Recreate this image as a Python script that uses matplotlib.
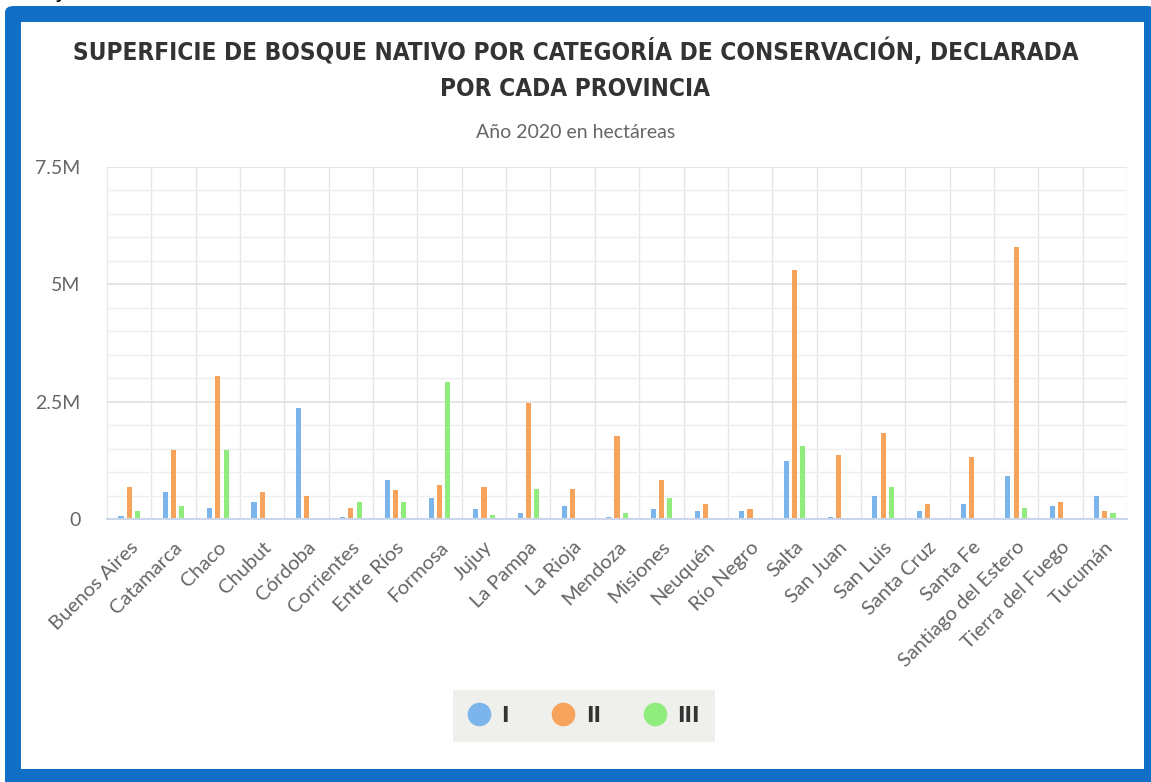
import matplotlib.pyplot as plt
import numpy as np
from matplotlib.patches import FancyBboxPatch, Rectangle
from matplotlib.lines import Line2D
from matplotlib.ticker import FuncFormatter, MultipleLocator

provincias = ['Buenos Aires', 'Catamarca', 'Chaco', 'Chubut', 'Córdoba', 'Corrientes',
              'Entre Ríos', 'Formosa', 'Jujuy', 'La Pampa', 'La Rioja', 'Mendoza',
              'Misiones', 'Neuquén', 'Río Negro', 'Salta', 'San Juan', 'San Luis',
              'Santa Cruz', 'Santa Fe', 'Santiago del Estero', 'Tierra del Fuego', 'Tucumán']

# millones de hectareas, categorias I / II / III
cat_I = [0.06, 0.57, 0.24, 0.37, 2.37, 0.04, 0.84, 0.44, 0.21, 0.13, 0.28, 0.04,
         0.21, 0.17, 0.17, 1.24, 0.04, 0.48, 0.17, 0.33, 0.92, 0.28, 0.48]
cat_II = [0.68, 1.48, 3.04, 0.57, 0.48, 0.24, 0.61, 0.72, 0.68, 2.47, 0.64, 1.76,
          0.84, 0.33, 0.21, 5.31, 1.36, 1.84, 0.33, 1.33, 5.80, 0.37, 0.17]
cat_III = [0.17, 0.28, 1.48, 0.0, 0.0, 0.37, 0.37, 2.92, 0.085, 0.64, 0.0, 0.13,
           0.44, 0.0, 0.0, 1.56, 0.0, 0.68, 0.0, 0.0, 0.24, 0.0, 0.13]
series = ['I', 'II', 'III']
colores = ['#7cb5ec', '#f7a35c', '#90ed7d']

W, H = 1151, 782
fig = plt.figure(figsize=(W / 100, H / 100), dpi=100)

# marco azul redondeado
fig.patches.append(FancyBboxPatch((5 / W, -0.05), 1.0, 1.05 - 6 / H,
                                  boxstyle='round,pad=0,rounding_size=0.008',
                                  transform=fig.transFigure, facecolor='#116fc6',
                                  edgecolor='none', zorder=-2))
fig.patches.append(Rectangle((21 / W, 1 - 769 / H), (1144 - 21) / W, (769 - 22) / H,
                             transform=fig.transFigure, facecolor='white',
                             edgecolor='none', zorder=-1))
fig.text(61 / W, 1 + 2 / H, 'y', fontsize=15, va='baseline', ha='center', color='black')

ax = fig.add_axes([107 / W, 1 - 519 / H, (1127 - 107) / W, (519 - 167) / H])
ax.set_facecolor('none')

x = np.arange(len(provincias))
n = len(x)
ancho = 0.115
paso = 0.185
for i, (vals, nombre, c) in enumerate(zip([cat_I, cat_II, cat_III], series, colores)):
    ax.bar(x + (i - 1) * paso, np.array(vals) * 1e6, width=ancho, color=c,
           label=nombre, zorder=3)

ax.set_xlim(-0.5, n - 0.5)
ax.set_ylim(0, 7.5e6)
ax.yaxis.set_major_locator(MultipleLocator(2.5e6))
ax.yaxis.set_minor_locator(MultipleLocator(0.5e6))
ax.yaxis.set_major_formatter(FuncFormatter(lambda v, p: '0' if v == 0 else f'{v / 1e6:g}M'))
ax.set_xticks(x)
ax.set_xticks(np.arange(-0.5, n, 1), minor=True)
ax.set_xticklabels(provincias, rotation=45, ha='right', rotation_mode='anchor',
                   fontsize=14.5, color='#666666', family=['Lato', 'DejaVu Sans'])
ax.tick_params(axis='x', which='both', length=0, pad=14)
ax.tick_params(axis='y', which='both', length=0, pad=19, labelsize=14,
               labelcolor='#666666')
for t in ax.get_yticklabels():
    t.set_family(['Lato', 'DejaVu Sans'])

ax.grid(axis='y', which='major', color='#e0e0e0', linewidth=1.2, zorder=0)
ax.grid(axis='y', which='minor', color='#eeeeee', linewidth=1.0, zorder=0)
ax.grid(axis='x', which='minor', color='#e6e6e6', linewidth=1.0, zorder=0)
for s in ['top', 'right', 'left']:
    ax.spines[s].set_visible(False)
ax.spines['bottom'].set_color('#ccd6eb')
ax.spines['bottom'].set_linewidth(1.5)
ax.spines['bottom'].set_zorder(4)

titulo = dict(ha='center', va='center', fontsize=17.5, fontweight='bold', color='#333333',
              family='DejaVu Sans', fontstretch='condensed')
fig.text(0.5, 1 - 51 / H,
         'SUPERFICIE DE BOSQUE NATIVO POR CATEGORÍA DE CONSERVACIÓN, DECLARADA', **titulo)
fig.text(0.5, 1 - 89 / H, 'POR CADA PROVINCIA', **titulo)
fig.text(0.5, 1 - 132 / H, 'Año 2020 en hectáreas', ha='center', va='center',
         fontsize=14, color='#666666', family=['Lato', 'DejaVu Sans'])

handles = [Line2D([], [], marker='o', linestyle='none', markersize=17,
                  markerfacecolor=c, markeredgecolor='none') for c in colores]
leg = fig.legend(handles, series, loc='center', bbox_to_anchor=(584 / W, 1 - 716 / H),
                 ncol=3, frameon=True, fancybox=False, facecolor='#efefeb',
                 edgecolor='none', framealpha=1, handlelength=1.0,
                 handletextpad=0.5, columnspacing=1.95, borderpad=0.7,
                 prop={'family': 'DejaVu Sans', 'stretch': 'condensed',
                       'weight': 'bold', 'size': 16})
for t in leg.get_texts():
    t.set_color('#333333')

plt.savefig('out.png', dpi=100)
